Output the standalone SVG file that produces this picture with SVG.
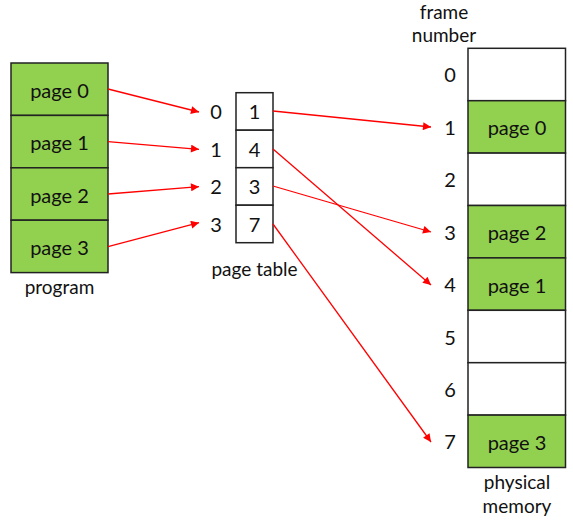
<svg xmlns="http://www.w3.org/2000/svg" width="573" height="525" viewBox="0 0 573 525">
<defs>
<style>
text{font-family:"Lato","Open Sans","DejaVu Sans",sans-serif;fill:#111;}
.pg{fill:#92d050;stroke:#222;stroke-width:1.5;}
.wt{fill:#fff;stroke:#222;stroke-width:1.5;}
.t{font-size:20px;text-anchor:middle;dominant-baseline:central;}
.lb{font-size:19px;text-anchor:middle;}
.c{stroke:#f00;stroke-width:1.3;fill:none;marker-end:url(#ah);}
</style>
<marker id="ah" viewBox="0 0 10 10" refX="10" refY="5" markerWidth="10" markerHeight="8" markerUnits="userSpaceOnUse" orient="auto"><path d="M0,0L10,5L0,10z" fill="#f00"/></marker>
</defs>
<rect width="573" height="525" fill="#fff"/>
<g id="program">
<rect class="pg" x="11" y="63" width="97" height="52.4"/>
<rect class="pg" x="11" y="115.4" width="97" height="52.4"/>
<rect class="pg" x="11" y="167.8" width="97" height="52.4"/>
<rect class="pg" x="11" y="220.2" width="97" height="52.4"/>
<text class="t" x="59.5" y="90">page 0</text>
<text class="t" x="59.5" y="142">page 1</text>
<text class="t" x="59.5" y="195">page 2</text>
<text class="t" x="59.5" y="247">page 3</text>
<text class="lb" x="59.5" y="294">program</text>
</g>
<g id="pagetable">
<rect class="wt" x="236" y="92.7" width="37" height="37.5"/>
<rect class="wt" x="236" y="130.2" width="37" height="37.5"/>
<rect class="wt" x="236" y="167.7" width="37" height="37.5"/>
<rect class="wt" x="236" y="205.2" width="37" height="37.5"/>
<text class="t" x="254.5" y="111">1</text>
<text class="t" x="254.5" y="149">4</text>
<text class="t" x="254.5" y="186">3</text>
<text class="t" x="254.5" y="223.5">7</text>
<text class="t" x="216" y="111">0</text>
<text class="t" x="216" y="149">1</text>
<text class="t" x="216" y="186">2</text>
<text class="t" x="216" y="223.5">3</text>
<text class="lb" x="254.5" y="276">page table</text>
</g>
<g id="memory">
<rect class="wt" x="468" y="48.3" width="97.5" height="52.4"/>
<rect class="pg" x="468" y="100.7" width="97.5" height="52.4"/>
<rect class="wt" x="468" y="153.1" width="97.5" height="52.4"/>
<rect class="pg" x="468" y="205.5" width="97.5" height="52.4"/>
<rect class="pg" x="468" y="257.9" width="97.5" height="52.4"/>
<rect class="wt" x="468" y="310.3" width="97.5" height="52.4"/>
<rect class="wt" x="468" y="362.7" width="97.5" height="52.4"/>
<rect class="pg" x="468" y="415.1" width="97.5" height="52.4"/>
<text class="t" x="517" y="127">page 0</text>
<text class="t" x="517" y="232">page 2</text>
<text class="t" x="517" y="285">page 1</text>
<text class="t" x="517" y="442">page 3</text>
<text class="t" x="450" y="74">0</text>
<text class="t" x="450" y="127">1</text>
<text class="t" x="450" y="179">2</text>
<text class="t" x="450" y="232">3</text>
<text class="t" x="450" y="284">4</text>
<text class="t" x="450" y="337">5</text>
<text class="t" x="450" y="389">6</text>
<text class="t" x="450" y="441">7</text>
<text class="lb" x="444" y="19">frame</text>
<text class="lb" x="444" y="42">number</text>
<text class="lb" x="517" y="489">physical</text>
<text class="lb" x="517" y="513">memory</text>
</g>
<g id="connectors">
<line class="c" x1="108" y1="89" x2="199" y2="112"/>
<line class="c" x1="108" y1="141.7" x2="199" y2="149.3"/>
<line class="c" x1="108" y1="194" x2="199" y2="186.7"/>
<line class="c" x1="108" y1="246.7" x2="199" y2="222.7"/>
<line class="c" x1="273" y1="111" x2="431" y2="127"/>
<line class="c" x1="273" y1="149" x2="431" y2="285"/>
<line class="c" x1="273" y1="186" x2="431" y2="232"/>
<line class="c" x1="273" y1="224" x2="431" y2="442"/>
</g>
</svg>
